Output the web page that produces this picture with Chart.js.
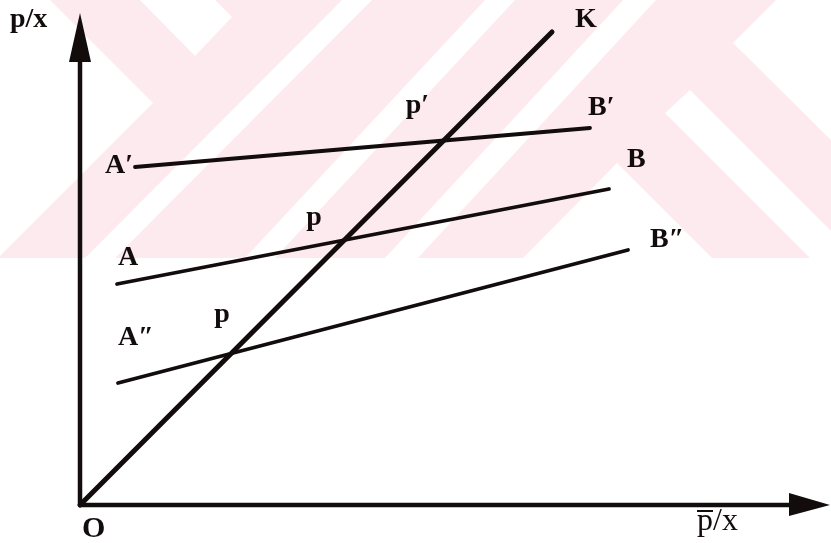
<!DOCTYPE html>
<html>
<head>
<meta charset="utf-8">
<script src="https://cdn.jsdelivr.net/npm/chart.js@4.4.0/dist/chart.umd.min.js"></script>
<style>
  html, body { margin: 0; padding: 0; background: #fff; }
  canvas { display: block; }
</style>
</head>
<body>
<canvas id="chart" width="831" height="543"></canvas>
<script>
// lines of the diagram, coordinates measured from O (no ticks on the original)
const startLabels = ['', 'A′', 'A', 'A″'];
const endLabels = ['K', 'B′', 'B', 'B″'];
const lineX = [[0, 47.2], [5.5, 51.0], [3.7, 52.9], [3.8, 54.8]];
const lineY = [[0, 47.3], [33.8, 37.7], [22.1, 31.6], [12.2, 25.5]];
// labels where K cuts A′B′, AB, A″B″
const crossLabels = ['p′', 'p', 'p'];
const xAxisMax = 75.0;
const yAxisMax = 49.2;

const ink = '#120c0c';
const labelFont = 'bold 28px "Liberation Serif", "DejaVu Serif", serif';

// pixel offsets of the letters from the point they belong to
const startOffsets = [null, [-2, 6, 'right'], [1, -19, 'left'], [0, -38, 'left']];
const endOffsets = [[23, -5], [-2, -13], [18, -22], [22, -3]];
const crossOffsets = [[-38, -28], [-38, -15], [-17, -31]];

function cross(a, b) {
  const ma = (lineY[a][1] - lineY[a][0]) / (lineX[a][1] - lineX[a][0]);
  const mb = (lineY[b][1] - lineY[b][0]) / (lineX[b][1] - lineX[b][0]);
  const cx = (lineY[b][0] - lineY[a][0] + ma * lineX[a][0] - mb * lineX[b][0]) / (ma - mb);
  return [cx, lineY[a][0] + ma * (cx - lineX[a][0])];
}

// faint pink watermark behind the top part
const watermark = {
  id: 'watermark',
  beforeDraw(chart) {
    const ctx = chart.ctx;
    ctx.save();
    ctx.fillStyle = '#fff';
    ctx.fillRect(0, 0, chart.width, chart.height);
    ctx.fillStyle = '#fdeaee';
    ctx.fillRect(0, 0, chart.width, 258);
    ctx.fillStyle = '#fff';
    const shapes = [
      [[0, 0], [50, 0], [153, 103], [0, 256]],
      [[140, 0], [215, 0], [232, 17], [195, 56]],
      [[85, 258], [115, 258], [372, 0], [342, 0]],
      [[245, 258], [275, 258], [515, 0], [485, 0]],
      [[385, 258], [418, 258], [656, 0], [623, 0]],
      [[617, 163], [712, 258], [523, 258]],
      [[665, 113], [690, 90], [831, 231], [831, 258], [810, 258]],
      [[733, 43], [776, 0], [831, 0], [831, 140]]
    ];
    shapes.forEach(pts => {
      ctx.beginPath();
      pts.forEach(([px, py], i) => i ? ctx.lineTo(px, py) : ctx.moveTo(px, py));
      ctx.closePath();
      ctx.fill();
    });
    ctx.restore();
  }
};

const axesAndLabels = {
  id: 'axesAndLabels',
  beforeDatasetsDraw(chart) {
    const { ctx, scales: { x, y } } = chart;
    const ox = x.getPixelForValue(0), oy = y.getPixelForValue(0);
    const tx = x.getPixelForValue(xAxisMax), ty = y.getPixelForValue(yAxisMax);
    ctx.save();
    ctx.strokeStyle = ink;
    ctx.fillStyle = ink;
    ctx.lineWidth = 4.5;
    ctx.lineCap = 'round';
    ctx.beginPath();
    ctx.moveTo(ox, oy);
    ctx.lineTo(ox, ty + 40);
    ctx.moveTo(ox, oy);
    ctx.lineTo(tx - 35, oy);
    ctx.stroke();
    ctx.beginPath();
    ctx.moveTo(ox, ty);
    ctx.lineTo(ox - 11, ty + 49);
    ctx.lineTo(ox + 11, ty + 49);
    ctx.closePath();
    ctx.fill();
    ctx.beginPath();
    ctx.moveTo(tx, oy);
    ctx.lineTo(tx - 41, oy - 12);
    ctx.lineTo(tx - 41, oy + 11);
    ctx.closePath();
    ctx.fill();
    ctx.restore();
  },
  afterDatasetsDraw(chart) {
    const { ctx, scales: { x, y } } = chart;
    const px = v => x.getPixelForValue(v), py = v => y.getPixelForValue(v);
    const ox = px(0), oy = py(0);
    ctx.save();
    ctx.fillStyle = ink;
    ctx.textBaseline = 'alphabetic';
    ctx.font = labelFont;

    lineX.forEach((xs, i) => {
      const so = startOffsets[i];
      if (so) {
        ctx.textAlign = so[2];
        ctx.fillText(startLabels[i], px(xs[0]) + so[0], py(lineY[i][0]) + so[1]);
      }
      const eo = endOffsets[i];
      ctx.textAlign = 'left';
      ctx.fillText(endLabels[i], px(xs[1]) + eo[0], py(lineY[i][1]) + eo[1]);
    });

    crossLabels.forEach((t, i) => {
      const [cx, cy] = cross(0, i + 1);
      ctx.textAlign = 'left';
      ctx.fillText(t, px(cx) + crossOffsets[i][0], py(cy) + crossOffsets[i][1]);
    });

    // axis names
    ctx.textAlign = 'left';
    ctx.fillText('p/x', ox - 70, py(yAxisMax) + 14);
    ctx.font = 'bold 30px "Liberation Serif", serif';
    ctx.fillText('O', ox + 2, oy + 32);
    ctx.font = '32px "Liberation Serif", serif';
    const lx = px(xAxisMax) - 133, ly = oy + 25;
    ctx.fillText('p/x', lx, ly);
    const pw = ctx.measureText('p').width;
    ctx.fillRect(lx, ly - 20, pw, 2);
    ctx.restore();
  }
};

const datasets = lineX.map((xs, i) => ({
  label: endLabels[i],
  data: xs.map((v, j) => ({ x: v, y: lineY[i][j] })),
  borderColor: ink,
  borderWidth: i === 0 ? 5 : 3.8,
  borderCapStyle: 'round',
  pointRadius: 0,
  fill: false,
  clip: false
}));

new Chart(document.getElementById('chart'), {
  type: 'line',
  data: { datasets },
  options: {
    responsive: false,
    devicePixelRatio: 1,
    animation: false,
    events: [],
    layout: { padding: 0 },
    plugins: { legend: { display: false }, tooltip: { enabled: false } },
    scales: {
      x: { type: 'linear', min: -8, max: 75.1, display: false },
      y: { type: 'linear', min: -3.8, max: 50.5, display: false }
    }
  },
  plugins: [watermark, axesAndLabels]
});
</script>
</body>
</html>
